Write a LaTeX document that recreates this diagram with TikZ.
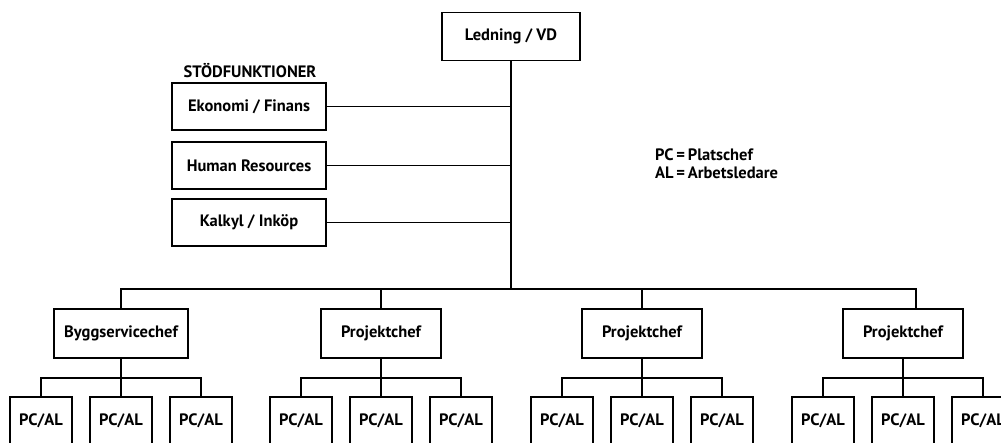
\documentclass[tikz,border=0pt]{standalone}
\usepackage{fontspec}
\setmainfont{PT Sans}
\usetikzlibrary{positioning}

\tikzset{
    box/.style={draw, line width=1.6pt, fill=white, inner sep=0pt,
        minimum height=48pt, font=\bfseries\fontsize{16.5}{19}\selectfont},
    link/.style={line width=1.6pt},
    note/.style={font=\bfseries\fontsize{16.5}{19}\selectfont, inner sep=0pt}
}

\begin{document}
\begin{tikzpicture}[x=1pt, y=-1pt]
        \useasboundingbox (0, 0) rectangle (1001, 443);
        \clip (0, 0) rectangle (1001, 443);

        % top
        \node[box, minimum width=138pt] (vd) at (511, 36.5) {Ledning / VD};
        \coordinate (hub) at (511, 289);
        \draw[link] (vd.south) -- (hub);

        % support functions
        \node[note] (stod) at (250, 71) {STÖDFUNKTIONER};
        \node[box, minimum width=154pt, minimum height=47pt] (eko) at (249, 106.5) {Ekonomi / Finans};
        \node[box, minimum width=154pt, minimum height=47pt] (hr) at (249, 165.5) {Human Resources};
        \node[box, minimum width=154pt, minimum height=47pt] (kalk) at (249, 222.5) {Kalkyl / Inköp};
        \draw[link] (eko.east) -- (eko.east -| hub);
        \draw[link] (hr.east) -- (hr.east -| hub);
        \draw[link] (kalk.east) -- (kalk.east -| hub);

        % legend
        \node[note, anchor=west] (pc) at (655, 155) {PC\,=\,Platschef};
        \node[note, anchor=west] (al) at (655, 173) {AL\,=\,Arbetsledare};

        % second level
        \node[box, minimum width=134pt, minimum height=49pt] (chef1) at (121, 333.5) {Byggservicechef};
        \node[box, minimum width=120pt, minimum height=49pt] (chef2) at (381, 333.5) {Projektchef};
        \node[box, minimum width=120pt, minimum height=49pt] (chef3) at (642, 333.5) {Projektchef};
        \node[box, minimum width=120pt, minimum height=49pt] (chef4) at (903, 333.5) {Projektchef};
        \coordinate (drop4) at (916, 289);
        \draw[link] (chef1.north) |- (hub) -- (drop4) -- (drop4 |- chef4.north);
        \draw[link] (chef2.north) -- (chef2.north |- hub);
        \draw[link] (chef3.north) -- (chef3.north |- hub);

        % PC/AL boxes
        \foreach \g/\cx in {1/121, 2/381, 3/642, 4/903} {
            \foreach \i/\dx in {1/-80, 2/0, 3/80} {
                \node[box, minimum width=62pt] (pcal\g\i) at (\cx+\dx, 421) {PC/AL};
            }
            \coordinate (bus\g) at (\cx, 378);
            \draw[link] (chef\g.south) -- (bus\g);
            \draw[link] (pcal\g1.north) |- (bus\g) -| (pcal\g3.north);
            \draw[link] (pcal\g2.north) -- (bus\g);
        }
    \end{tikzpicture}
\end{document}
